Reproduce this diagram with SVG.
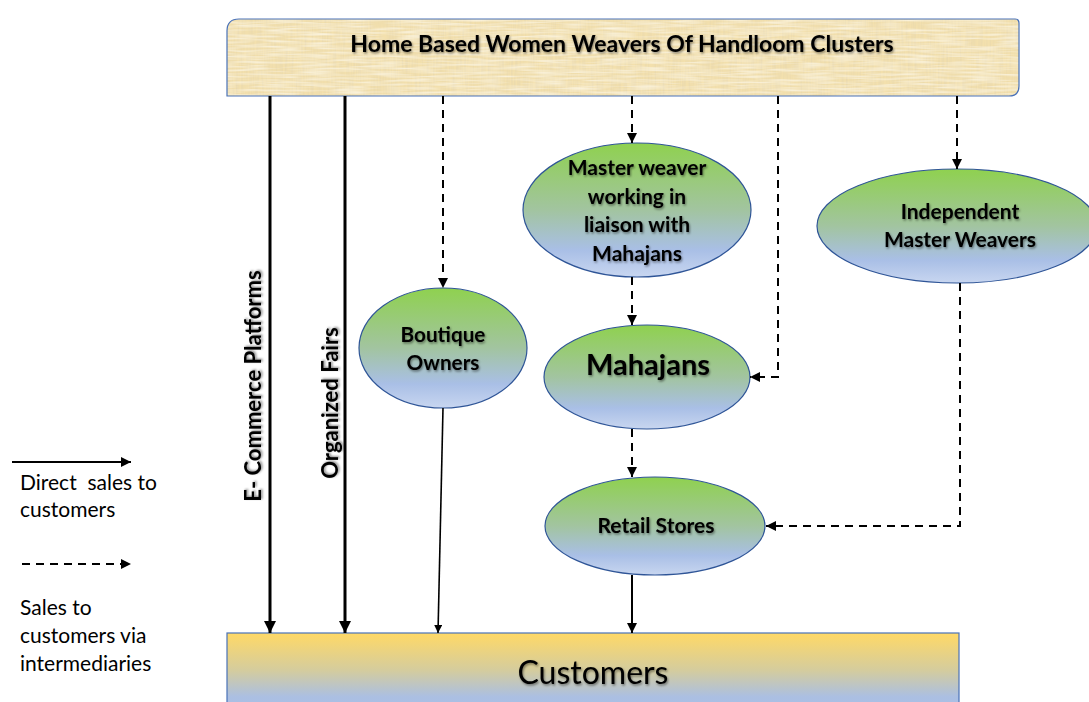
<svg xmlns="http://www.w3.org/2000/svg" width="1089" height="702" viewBox="0 0 1089 702">
<defs>
  <linearGradient id="ellG" x1="0" y1="0" x2="0" y2="1">
    <stop offset="0" stop-color="#8fd14f"/>
    <stop offset="0.5" stop-color="#a2c4a0"/>
    <stop offset="0.8" stop-color="#a9bfe6"/>
    <stop offset="1" stop-color="#c8d6f0"/>
  </linearGradient>
  <linearGradient id="custG" x1="0" y1="0" x2="0" y2="1">
    <stop offset="0" stop-color="#ffd966"/>
    <stop offset="0.5" stop-color="#d4cc9e"/>
    <stop offset="0.85" stop-color="#abbfe2"/>
    <stop offset="1" stop-color="#a9bfe6"/>
  </linearGradient>
  <filter id="paper" x="0" y="0" width="100%" height="100%">
    <feTurbulence type="fractalNoise" baseFrequency="0.6 0.04" numOctaves="2" seed="3" result="n1"/>
    <feTurbulence type="fractalNoise" baseFrequency="0.03 0.5" numOctaves="2" seed="7" result="n2"/>
    <feColorMatrix in="n1" type="matrix" values="0 0 0 0 0.80  0 0 0 0 0.68  0 0 0 0 0.42  0 0 0 1.4 -0.45" result="c1"/>
    <feColorMatrix in="n2" type="matrix" values="0 0 0 0 0.99  0 0 0 0 0.95  0 0 0 0 0.82  0 0 0 1.4 -0.5" result="c2"/>
    <feMerge result="m"><feMergeNode in="SourceGraphic"/><feMergeNode in="c1"/><feMergeNode in="c2"/></feMerge>
    <feComposite in="m" in2="SourceGraphic" operator="in"/>
  </filter>
  <filter id="shadow" x="-10%" y="-30%" width="120%" height="160%">
    <feDropShadow dx="1" dy="1.5" stdDeviation="1" flood-color="#000" flood-opacity="0.45"/>
  </filter>
  <marker id="ah" viewBox="0 0 10 10" refX="10" refY="5" markerWidth="4" markerHeight="4" orient="auto" markerUnits="strokeWidth">
    <path d="M0,0 L10,5 L0,10 z" fill="#000"/>
  </marker>
  <marker id="ahs" viewBox="0 0 10 10" refX="10" refY="5" markerWidth="5" markerHeight="5" orient="auto" markerUnits="strokeWidth">
    <path d="M0,0 L10,5 L0,10 z" fill="#000"/>
  </marker>
</defs>
<style>
  .ell { fill: url(#ellG); stroke: #2f5597; stroke-width: 1.2; }
  .lbl { font-family: Lato, "Liberation Sans", sans-serif; font-weight: bold; fill: #000; text-anchor: middle; filter: url(#shadow); }
  .leg { font-family: Lato, "Open Sans", "Liberation Sans", sans-serif; font-size: 21px; fill: #000; white-space: pre; }
  .solid { stroke: #000; fill: none; }
  .dash { stroke: #000; fill: none; stroke-width: 2; stroke-dasharray: 8 6; marker-end: url(#ahs); }
</style>

<g id="weavers">
  <path d="M239,19 H1015 Q1019,19 1019,23 V86 Q1019,96 1009,96 H227 V31 Q227,19 239,19 Z" fill="#f3e0ad" filter="url(#paper)"/>
  <path d="M239,19 H1015 Q1019,19 1019,23 V86 Q1019,96 1009,96 H227 V31 Q227,19 239,19 Z" fill="none" stroke="#4a72b8" stroke-width="1.2"/>
  <text class="lbl" x="622" y="52" font-size="23">Home Based Women Weavers Of Handloom Clusters</text>
</g>

<g id="customers">
  <rect x="227" y="633" width="732" height="75" fill="url(#custG)" stroke="#4a72b8" stroke-width="1.2"/>
  <text x="593" y="684" font-family="Lato, 'Liberation Sans', sans-serif" font-size="32" text-anchor="middle" fill="#000" filter="url(#shadow)">Customers</text>
</g>

<g id="boutique">
  <ellipse class="ell" cx="443" cy="348" rx="84" ry="60"/>
  <text class="lbl" x="443" y="342" font-size="20.7">Boutique</text>
  <text class="lbl" x="443" y="370" font-size="20.7">Owners</text>
</g>

<g id="masterweaver">
  <ellipse class="ell" cx="637" cy="210" rx="114" ry="67"/>
  <text class="lbl" x="637" y="175" font-size="21">Master weaver</text>
  <text class="lbl" x="637" y="204" font-size="21">working in</text>
  <text class="lbl" x="637" y="232" font-size="21">liaison with</text>
  <text class="lbl" x="637" y="261" font-size="21">Mahajans</text>
</g>

<g id="mahajans">
  <ellipse class="ell" cx="647" cy="377" rx="103" ry="52"/>
  <text class="lbl" x="648" y="375" font-size="29">Mahajans</text>
</g>

<g id="independent">
  <ellipse class="ell" cx="957" cy="226" rx="140" ry="57"/>
  <text class="lbl" x="960" y="219" font-size="21">Independent</text>
  <text class="lbl" x="960" y="247" font-size="21">Master Weavers</text>
</g>

<g id="retail">
  <ellipse class="ell" cx="655" cy="526" rx="110" ry="49"/>
  <text class="lbl" x="656" y="533" font-size="21">Retail Stores</text>
</g>

<g id="connectors">
  <line class="solid" x1="270" y1="96" x2="270" y2="633" stroke-width="3" marker-end="url(#ah)"/>
  <line class="solid" x1="345" y1="96" x2="345" y2="633" stroke-width="3" marker-end="url(#ah)"/>
  <line class="solid" x1="443" y1="408" x2="438" y2="633" stroke-width="1.6" marker-end="url(#ahs)"/>
  <line class="solid" x1="632" y1="575" x2="632" y2="633" stroke-width="2" marker-end="url(#ahs)"/>
  <line class="dash" x1="443" y1="96" x2="443" y2="288"/>
  <line class="dash" x1="632" y1="96" x2="632" y2="143"/>
  <line class="dash" x1="632" y1="277" x2="632" y2="325"/>
  <line class="dash" x1="632" y1="429" x2="632" y2="477"/>
  <line class="dash" x1="957" y1="96" x2="957" y2="169"/>
  <polyline class="dash" points="778,96 778,377 750,377"/>
  <polyline class="dash" points="960,283 960,526 766,526"/>
  <text class="lbl" font-size="22" transform="translate(261,386) rotate(-90)">E- Commerce Platforms</text>
  <text class="lbl" font-size="22" transform="translate(338,403) rotate(-90)">Organized Fairs</text>
</g>

<g id="legend">
  <line class="solid" x1="12" y1="462" x2="131" y2="462" stroke-width="2" marker-end="url(#ahs)"/>
  <text class="leg" x="20" y="490" xml:space="preserve">Direct  sales to</text>
  <text class="leg" x="20" y="517">customers</text>
  <line class="dash" x1="22" y1="564" x2="131" y2="564"/>
  <text class="leg" x="20" y="615">Sales to</text>
  <text class="leg" x="20" y="643">customers via</text>
  <text class="leg" x="20" y="671">intermediaries</text>
</g>
</svg>
